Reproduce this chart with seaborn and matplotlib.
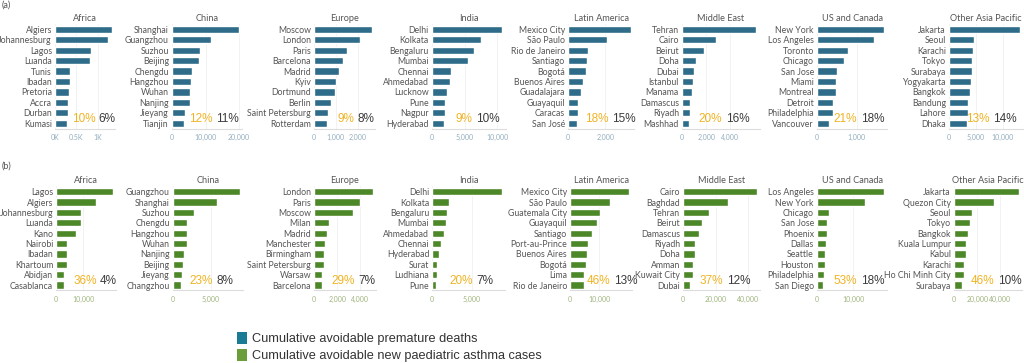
"""
Avoidable premature deaths (a) and paediatric asthma cases (b)
for the ten highest cities in each world region.
"""

import matplotlib.pyplot as plt
from matplotlib.patches import Patch
import seaborn as sns

# ==========================================================
# Data
# ==========================================================

REGIONS = [
    "Africa", "China", "Europe", "India",
    "Latin America", "Middle East", "US and Canada", "Other Asia Pacific",
]

# (a) cumulative avoidable premature deaths
AFRICA_DEATH_CITIES = ["Algiers", "Johannesburg", "Lagos", "Luanda", "Tunis",
                       "Ibadan", "Pretoria", "Accra", "Durban", "Kumasi"]
AFRICA_DEATHS = [1330, 1240, 830, 820, 350, 340, 320, 310, 300, 280]

CHINA_DEATH_CITIES = ["Shanghai", "Guangzhou", "Suzhou", "Beijing", "Chengdu",
                      "Hangzhou", "Wuhan", "Nanjing", "Jieyang", "Tianjin"]
CHINA_DEATHS = [20000, 11500, 8400, 8100, 6000, 5600, 5500, 5300, 4000, 3700]

EUROPE_DEATH_CITIES = ["Moscow", "London", "Paris", "Barcelona", "Madrid",
                       "Kyiv", "Dortmund", "Berlin", "Saint Petersburg", "Rotterdam"]
EUROPE_DEATHS = [2670, 2120, 1520, 1310, 1170, 1000, 970, 780, 650, 620]

INDIA_DEATH_CITIES = ["Delhi", "Kolkata", "Bengaluru", "Mumbai", "Chennai",
                      "Ahmedabad", "Lucknow", "Pune", "Nagpur", "Hyderabad"]
INDIA_DEATHS = [10800, 7550, 6500, 5550, 2950, 2800, 2250, 2000, 2000, 1900]

LATAM_DEATH_CITIES = ["Mexico City", "São Paulo", "Rio de Janeiro", "Santiago",
                      "Bogotá", "Buenos Aires", "Guadalajara", "Guayaquil",
                      "Caracas", "San José"]
LATAM_DEATHS = [3370, 2080, 1070, 1030, 980, 780, 700, 550, 510, 500]

MIDEAST_DEATH_CITIES = ["Tehran", "Cairo", "Beirut", "Doha", "Dubai",
                        "Istanbul", "Manama", "Damascus", "Riyadh", "Mashhad"]
MIDEAST_DEATHS = [6150, 2850, 1860, 1130, 990, 910, 820, 690, 690, 550]

USCAN_DEATH_CITIES = ["New York", "Los Angeles", "Toronto", "Chicago", "San Jose",
                      "Miami", "Montreal", "Detroit", "Philadelphia", "Vancouver"]
USCAN_DEATHS = [1670, 1440, 770, 670, 510, 470, 470, 410, 410, 300]

ASIAPAC_DEATH_CITIES = ["Jakarta", "Seoul", "Karachi", "Tokyo", "Surabaya",
                        "Yogyakarta", "Bangkok", "Bandung", "Lahore", "Dhaka"]
ASIAPAC_DEATHS = [13200, 4700, 4400, 4300, 4300, 4000, 3850, 3500, 3500, 3350]

# (b) cumulative avoidable new paediatric asthma cases
AFRICA_ASTHMA_CITIES = ["Lagos", "Algiers", "Johannesburg", "Luanda", "Kano",
                        "Nairobi", "Ibadan", "Khartoum", "Abidjan", "Casablanca"]
AFRICA_ASTHMA = [21100, 14600, 9100, 9000, 7300, 4100, 4000, 3800, 3000, 2700]

CHINA_ASTHMA_CITIES = ["Guangzhou", "Shanghai", "Suzhou", "Chengdu", "Hangzhou",
                       "Wuhan", "Nanjing", "Beijing", "Jieyang", "Changzhou"]
CHINA_ASTHMA = [8860, 5870, 2840, 1880, 1840, 1840, 1530, 1400, 1220, 1090]

EUROPE_ASTHMA_CITIES = ["London", "Paris", "Moscow", "Milan", "Madrid",
                        "Manchester", "Birmingham", "Saint Petersburg",
                        "Warsaw", "Barcelona"]
EUROPE_ASTHMA = [5080, 3970, 3340, 1300, 1080, 960, 870, 820, 640, 640]

INDIA_ASTHMA_CITIES = ["Delhi", "Kolkata", "Bengaluru", "Mumbai", "Ahmedabad",
                       "Chennai", "Hyderabad", "Surat", "Ludhiana", "Pune"]
INDIA_ASTHMA = [8740, 2140, 1890, 1760, 1430, 1100, 840, 630, 550, 500]

LATAM_ASTHMA_CITIES = ["Mexico City", "São Paulo", "Guatemala City", "Guayaquil",
                       "Santiago", "Port-au-Prince", "Buenos Aires", "Bogotá",
                       "Lima", "Rio de Janeiro"]
LATAM_ASTHMA = [20200, 13500, 10200, 9300, 7500, 6000, 5800, 5500, 4900, 4800]

MIDEAST_ASTHMA_CITIES = ["Cairo", "Baghdad", "Tehran", "Beirut", "Damascus",
                         "Riyadh", "Doha", "Amman", "Kuwait City", "Dubai"]
MIDEAST_ASTHMA = [45300, 27900, 16000, 11500, 10000, 7400, 7400, 6400, 6400, 4500]

USCAN_ASTHMA_CITIES = ["Los Angeles", "New York", "Chicago", "San Jose", "Phoenix",
                       "Dallas", "Seattle", "Houston", "Philadelphia", "San Diego"]
USCAN_ASTHMA = [18400, 13100, 3400, 2800, 2700, 2500, 2300, 2100, 2000, 1700]

ASIAPAC_ASTHMA_CITIES = ["Jakarta", "Quezon City", "Seoul", "Tokyo", "Bangkok",
                         "Kuala Lumpur", "Kabul", "Karachi", "Ho Chi Minh City",
                         "Surabaya"]
ASIAPAC_ASTHMA = [56000, 34700, 15500, 13500, 11800, 10600, 10600, 8900, 8600, 7200]

# Percent labels per region
DEATH_PCT_YELLOW = ["10%", "12%", "9%", "9%", "18%", "20%", "21%", "13%"]
DEATH_PCT_DARK = ["6%", "11%", "8%", "10%", "15%", "16%", "18%", "14%"]
ASTHMA_PCT_YELLOW = ["36%", "23%", "29%", "20%", "46%", "37%", "53%", "46%"]
ASTHMA_PCT_DARK = ["4%", "8%", "7%", "7%", "13%", "12%", "18%", "10%"]

# Axis ticks
DEATH_TICKS = [[0, 500, 1000], [0, 10000, 20000], [0, 1000, 2000], [0, 5000, 10000],
               [0, 2000], [0, 2000, 4000], [0, 1000], [0, 5000, 10000]]
DEATH_TICK_LABELS = [["0K", "0.5K", "1K"], ["0", "10,000", "20,000"],
                     ["0", "1,000", "2,000"], ["0", "5,000", "10,000"],
                     ["0", "2,000"], ["0", "2,000", "4,000"], ["0", "1,000"],
                     ["0", "5,000", "10,000"]]
ASTHMA_TICKS = [[0, 10000], [0, 5000], [0, 2000, 4000], [0, 5000],
                [0, 10000], [0, 20000, 40000], [0, 10000], [0, 20000, 40000]]
ASTHMA_TICK_LABELS = [["0", "10,000"], ["0", "5,000"], ["0", "2,000", "4,000"],
                      ["0", "5,000"], ["0", "10,000"], ["0", "20,000", "40,000"],
                      ["0", "10,000"], ["0", "20,000", "40,000"]]

DEATH_CITIES = [AFRICA_DEATH_CITIES, CHINA_DEATH_CITIES, EUROPE_DEATH_CITIES,
                INDIA_DEATH_CITIES, LATAM_DEATH_CITIES, MIDEAST_DEATH_CITIES,
                USCAN_DEATH_CITIES, ASIAPAC_DEATH_CITIES]
DEATH_VALUES = [AFRICA_DEATHS, CHINA_DEATHS, EUROPE_DEATHS, INDIA_DEATHS,
                LATAM_DEATHS, MIDEAST_DEATHS, USCAN_DEATHS, ASIAPAC_DEATHS]
ASTHMA_CITIES = [AFRICA_ASTHMA_CITIES, CHINA_ASTHMA_CITIES, EUROPE_ASTHMA_CITIES,
                 INDIA_ASTHMA_CITIES, LATAM_ASTHMA_CITIES, MIDEAST_ASTHMA_CITIES,
                 USCAN_ASTHMA_CITIES, ASIAPAC_ASTHMA_CITIES]
ASTHMA_VALUES = [AFRICA_ASTHMA, CHINA_ASTHMA, EUROPE_ASTHMA, INDIA_ASTHMA,
                 LATAM_ASTHMA, MIDEAST_ASTHMA, USCAN_ASTHMA, ASIAPAC_ASTHMA]

# ==========================================================
# Layout (pixels) and style
# ==========================================================

W, H = 1024, 363

ROW_A_TOP, ROW_A_HEIGHT = 24.1, 104.4
ROW_B_TOP, ROW_B_HEIGHT = 186.5, 103.7
ROW_A_LEFTS = [55, 172, 314, 432, 568, 682, 817, 949]
ROW_A_WIDTHS = [60, 70.4, 61, 74, 66, 78, 70, 74.5]
ROW_B_LEFTS = [56.3, 172.7, 314.3, 432.3, 570, 683, 817, 954]
ROW_B_WIDTHS = [59.9, 70.4, 61.3, 72.9, 62.3, 77.4, 70.3, 68.3]

DEATH_COLOR = "#2E6C8A"
ASTHMA_COLOR = "#4C8728"
LEGEND_BLUE = "#1B7A94"
LEGEND_GREEN = "#6B9E3A"
YELLOW = "#F0B323"
DARK = "#3B3B3B"
LABEL_GREY = "#555555"

sns.set_theme(style="white")
plt.rcParams["font.family"] = ["Lato", "DejaVu Sans"]


# ==========================================================
# Panel
# ==========================================================

def draw_panel(fig, rect, region, cities, values, ticks, tick_labels,
               color, tick_color, pct_yellow, pct_dark):
    left, top, width, height = rect
    ax = fig.add_axes([left / W, 1 - (top + height) / H, width / W, height / H])

    sns.barplot(
        x=values,
        y=cities,
        orient="h",
        color=color,
        saturation=1,
        width=0.7,
        ax=ax,
    )

    ax.set_xlim(0, max(values) * 1.05)
    ax.set_ylim(9.5, -0.5)
    ax.set_xticks(ticks)
    ax.set_xticklabels(tick_labels)
    ax.set_xlabel("")
    ax.set_ylabel("")

    ax.tick_params(axis="y", length=0, pad=2.2, labelsize=6.3,
                   labelcolor=LABEL_GREY)
    ax.tick_params(axis="x", length=0, pad=4, labelsize=5.0,
                   labelcolor=tick_color)

    ax.grid(axis="x", color="#f0f0f0", linewidth=0.6)
    ax.set_axisbelow(True)
    for side in ["top", "right", "left"]:
        ax.spines[side].set_visible(False)
    ax.spines["bottom"].set_color("#dcdcdc")
    ax.spines["bottom"].set_linewidth(0.8)

    ax.set_title(region, fontsize=6.6, color=LABEL_GREY, pad=2.5)

    # percent pair, anchored ~42 px from the pane's left edge
    x_off = 42 * 0.72
    ax.annotate(pct_yellow, xy=(0, 0.093), xycoords="axes fraction",
                xytext=(x_off - 1.2, 0), textcoords="offset points",
                ha="right", va="center", fontsize=8.5, color=YELLOW,
                family="Liberation Sans")
    ax.annotate(pct_dark, xy=(0, 0.093), xycoords="axes fraction",
                xytext=(x_off + 1.2, 0), textcoords="offset points",
                ha="left", va="center", fontsize=8.5, color=DARK,
                family="Liberation Sans")
    return ax


# ==========================================================
# Main
# ==========================================================

def main():
    fig = plt.figure(figsize=(W / 100, H / 100), dpi=100)

    for i, region in enumerate(REGIONS):
        draw_panel(
            fig,
            (ROW_A_LEFTS[i], ROW_A_TOP, ROW_A_WIDTHS[i], ROW_A_HEIGHT),
            region, DEATH_CITIES[i], DEATH_VALUES[i],
            DEATH_TICKS[i], DEATH_TICK_LABELS[i],
            DEATH_COLOR, "#93aebf",
            DEATH_PCT_YELLOW[i], DEATH_PCT_DARK[i],
        )
        draw_panel(
            fig,
            (ROW_B_LEFTS[i], ROW_B_TOP, ROW_B_WIDTHS[i], ROW_B_HEIGHT),
            region, ASTHMA_CITIES[i], ASTHMA_VALUES[i],
            ASTHMA_TICKS[i], ASTHMA_TICK_LABELS[i],
            ASTHMA_COLOR, "#9fb57f",
            ASTHMA_PCT_YELLOW[i], ASTHMA_PCT_DARK[i],
        )

    fig.text(2 / W, 1 - 5 / H, "(a)", fontsize=6.5, color=LABEL_GREY,
             va="center", ha="left")
    fig.text(2 / W, 1 - 166 / H, "(b)", fontsize=6.5, color=LABEL_GREY,
             va="center", ha="left")

    handles = [
        Patch(facecolor=LEGEND_BLUE, edgecolor="none",
              label="Cumulative avoidable premature deaths"),
        Patch(facecolor=LEGEND_GREEN, edgecolor="none",
              label="Cumulative avoidable new paediatric asthma cases"),
    ]
    fig.legend(
        handles=handles,
        loc="upper left",
        bbox_to_anchor=(237 / W, 1 - 332 / H),
        frameon=False,
        prop={"family": "Liberation Sans", "size": 9.2},
        labelcolor="#333333",
        handlelength=0.8,
        handleheight=1.05,
        handletextpad=0.4,
        labelspacing=0.3,
        borderpad=0,
        borderaxespad=0,
    )

    fig.savefig("out.png", dpi=100)
    plt.close(fig)


if __name__ == "__main__":
    main()
